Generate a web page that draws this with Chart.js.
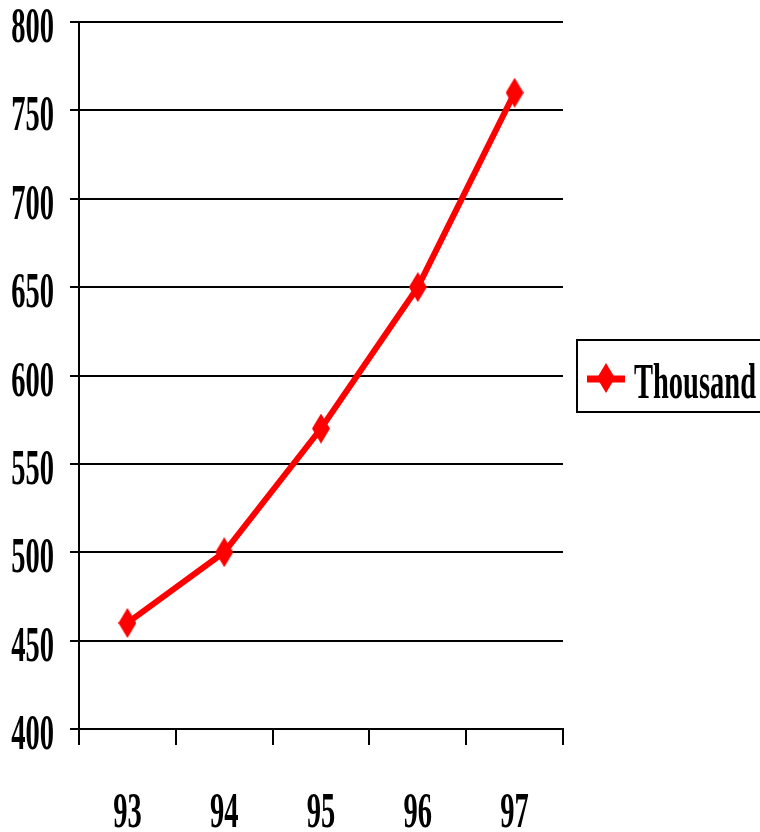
<!DOCTYPE html>
<html>
<head>
<meta charset="utf-8">
<title>Thousand, 93–97</title>
<script src="https://cdn.jsdelivr.net/npm/chart.js@4/dist/chart.umd.min.js"></script>
<style>
  html, body { margin: 0; padding: 0; background: #ffffff; }
  canvas { display: block; }
</style>
</head>
<body>
<canvas id="chart" width="760" height="832"></canvas>
<script>
// Years (two-digit) and the yearly totals, in thousands
const years = ['93', '94', '95', '96', '97'];
const thousands = [460, 500, 570, 650, 760];
const seriesLabel = 'Thousand';

// Value axis range
const yMin = 400;
const yMax = 800;
const yStep = 50;

const RED = '#ff0000';
const FONT = 'bold 50px "Liberation Serif", "Times New Roman", serif';
const SQUEEZE = 0.57; // horizontal condensing of all text

// Tall diamond marker
function makeDiamond(w, h, color) {
  const c = document.createElement('canvas');
  c.width = w; c.height = h;
  const g = c.getContext('2d');
  g.fillStyle = color;
  g.beginPath();
  g.moveTo(w / 2, 0);
  g.lineTo(w, h / 2);
  g.lineTo(w / 2, h);
  g.lineTo(0, h / 2);
  g.closePath();
  g.fill();
  return c;
}
const diamond = makeDiamond(18, 30, RED);

function condensedText(ctx, text, x, y, align) {
  ctx.save();
  ctx.translate(x, y);
  ctx.scale(SQUEEZE, 1);
  ctx.font = FONT;
  ctx.fillStyle = '#000000';
  ctx.textAlign = align;
  ctx.textBaseline = 'alphabetic';
  ctx.fillText(text, 0, 0);
  ctx.restore();
}

// Tick labels drawn in a condensed face, positioned from the scales
const condensedTicks = {
  id: 'condensedTicks',
  afterDraw(chart) {
    const ctx = chart.ctx;
    const ys = chart.scales.y;
    ys.ticks.forEach(t => {
      const py = ys.getPixelForValue(t.value);
      condensedText(ctx, String(t.value), ys.right - 25, py + 20, 'right');
    });
    const xs = chart.scales.x;
    xs.getLabels().forEach((lab, i) => {
      const px = xs.getPixelForValue(i);
      condensedText(ctx, lab, px, 827, 'center');
    });
  }
};

// Boxed legend on the right
const boxedLegend = {
  id: 'boxedLegend',
  afterDraw(chart) {
    const ctx = chart.ctx;
    const ds = chart.data.datasets[0];
    ctx.save();
    ctx.strokeStyle = '#000000';
    ctx.lineWidth = 2;
    ctx.strokeRect(577, 340, 200, 72);
    ctx.strokeStyle = ds.borderColor;
    ctx.lineWidth = 7;
    ctx.beginPath();
    ctx.moveTo(587, 379);
    ctx.lineTo(625, 379);
    ctx.stroke();
    ctx.drawImage(diamond, 606 - diamond.width / 2, 378 - diamond.height / 2);
    ctx.restore();
    condensedText(ctx, ds.label, 634, 398, 'left');
  }
};

new Chart(document.getElementById('chart'), {
  type: 'line',
  data: {
    labels: years,
    datasets: [{
      label: seriesLabel,
      data: thousands,
      borderColor: RED,
      backgroundColor: RED,
      borderWidth: 6,
      tension: 0,
      pointStyle: diamond,
      pointRadius: 10,
      pointHoverRadius: 10
    }]
  },
  options: {
    responsive: false,
    animation: false,
    events: [],
    layout: { padding: { top: 22, right: 197, bottom: 0, left: 0 } },
    plugins: {
      legend: { display: false },
      tooltip: { enabled: false }
    },
    scales: {
      x: {
        type: 'category',
        offset: true,
        grid: {
          offset: true,
          drawOnChartArea: false,
          drawTicks: true,
          tickLength: 16,
          color: '#000000',
          lineWidth: 2
        },
        border: { display: true, color: '#000000', width: 2 },
        ticks: { display: false },
        afterFit(scale) { scale.height = 103; }
      },
      y: {
        min: yMin,
        max: yMax,
        ticks: { display: false, stepSize: yStep },
        grid: {
          color: '#000000',
          lineWidth: 2,
          drawTicks: true,
          tickLength: 9
        },
        border: { display: true, color: '#000000', width: 2 },
        afterFit(scale) { scale.width = 79; }
      }
    }
  },
  plugins: [condensedTicks, boxedLegend]
});
</script>
</body>
</html>
